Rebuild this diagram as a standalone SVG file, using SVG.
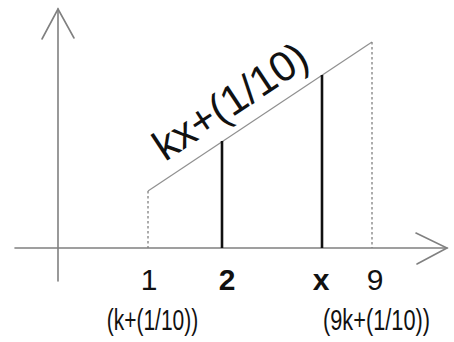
<svg xmlns="http://www.w3.org/2000/svg" width="454" height="342" viewBox="0 0 454 342">
<style>
.axis{stroke:#808080;stroke-width:1.6;fill:none;stroke-linecap:round}
.thin{stroke:#909090;stroke-width:1.2;fill:none}
.dot{stroke:#808080;stroke-width:1.3;fill:none;stroke-dasharray:2.5 2.5}
.bar{stroke:#111;stroke-width:2.6;fill:none}
.t{font-family:"Liberation Sans",Arial,sans-serif;fill:#111;text-anchor:middle}
.slant{font-family:"Liberation Sans",Arial,sans-serif;fill:#111;text-anchor:start;font-size:42px}
.lbl{font-size:30px}
.b{font-weight:bold}
.small{font-size:30px}
</style>
<rect width="454" height="342" fill="#fff"/>
<g id="axes">
<line class="axis" x1="58" y1="9" x2="58" y2="281"/>
<polyline class="axis" points="42,39 58,9 74,38"/>
<line class="axis" x1="15" y1="248" x2="447" y2="248"/>
<polyline class="axis" points="416,233 447,248 417,264"/>
</g>
<g id="graph">
<line class="thin" x1="148" y1="191" x2="372" y2="42"/>
<line class="dot" x1="148" y1="191" x2="148" y2="248"/>
<line class="dot" x1="372" y1="42" x2="372" y2="248"/>
<line class="bar" x1="222" y1="141" x2="222" y2="248"/>
<line class="bar" x1="322" y1="75" x2="322" y2="248"/>
</g>
<g id="labels">
<text class="slant" transform="translate(165,162) rotate(-33.63)">kx+(1/10)</text>
<text class="t lbl" x="149" y="290">1</text>
<text class="t lbl b" x="227" y="290">2</text>
<text class="t lbl b" x="321" y="290">x</text>
<text class="t lbl" x="375" y="290">9</text>
<text class="t small" transform="translate(152.5,329.5) scale(0.7,1)">(k+(1/10))</text>
<text class="t small" transform="translate(376.5,329.5) scale(0.725,1)">(9k+(1/10))</text>
</g>
</svg>
